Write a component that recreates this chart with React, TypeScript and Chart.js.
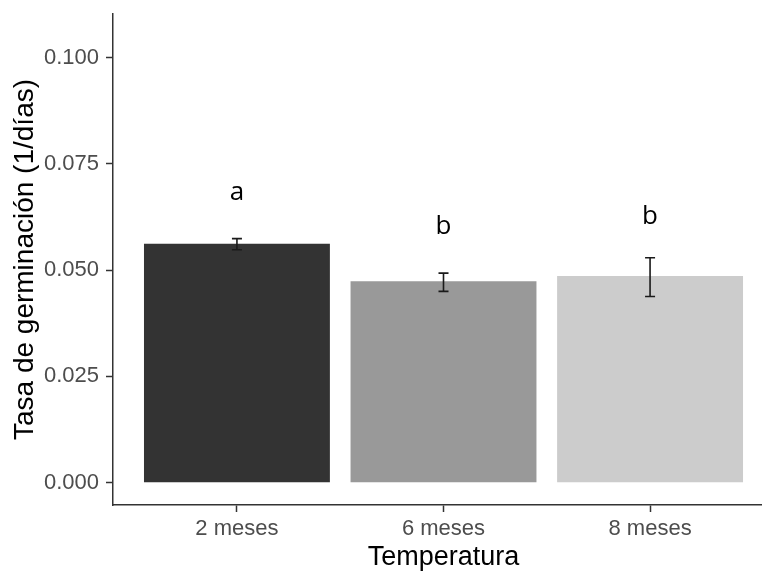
import React, { useEffect, useRef } from "react";
import { Chart, registerables } from "chart.js";
Chart.register(...registerables);

const categories = ["2 meses", "6 meses", "8 meses"];
const positions = [1, 2, 3];
const means = [0.0562, 0.0474, 0.0486];
const errLow = [0.0548, 0.045, 0.0438];
const errHigh = [0.0574, 0.0493, 0.0529];
const letters = ["a", "b", "b"];
const letterY = [0.0664, 0.0585, 0.0609];
const barColors = ["#333333", "#999999", "#cccccc"];
const yTicks = [0, 0.025, 0.05, 0.075, 0.1];
const xTitle = "Temperatura";
const yTitle = "Tasa de germinación (1/días)";

const overlay = {
  id: "overlay",
  afterDatasetsDraw(chart: any) {
    const { ctx, chartArea } = chart;
    const x = chart.scales.x;
    const y = chart.scales.y;
    ctx.save();
    ctx.strokeStyle = "#1a1a1a";
    ctx.lineWidth = 1.6;
    positions.forEach((p, i) => {
      const cx = x.getPixelForValue(p);
      const top = y.getPixelForValue(errHigh[i]);
      const bot = y.getPixelForValue(errLow[i]);
      ctx.beginPath();
      ctx.moveTo(cx, top);
      ctx.lineTo(cx, bot);
      ctx.moveTo(cx - 5, top);
      ctx.lineTo(cx + 5, top);
      ctx.moveTo(cx - 5, bot);
      ctx.lineTo(cx + 5, bot);
      ctx.stroke();
    });
    ctx.fillStyle = "#000";
    ctx.font = '26px "Open Sans", "Noto Sans", sans-serif';
    ctx.textAlign = "center";
    ctx.textBaseline = "alphabetic";
    letters.forEach((l, i) => {
      ctx.fillText(l, x.getPixelForValue(positions[i]), y.getPixelForValue(letterY[i]));
    });
    ctx.font = '27px "Liberation Sans", Arial, sans-serif';
    ctx.fillText(xTitle, (chartArea.left + chartArea.right) / 2, 565);
    ctx.font = '28px "Liberation Sans", Arial, sans-serif';
    ctx.translate(33, (chartArea.top + chartArea.bottom) / 2);
    ctx.rotate(-Math.PI / 2);
    ctx.fillText(yTitle, 0, 0);
    ctx.restore();
  },
};

export default function App() {
  const ref = useRef<HTMLCanvasElement | null>(null);
  useEffect(() => {
    if (!ref.current) return;
    const chart = new Chart(ref.current, {
      type: "bar",
      data: {
        datasets: [
          {
            data: positions.map((p, i) => ({ x: p, y: means[i] })),
            backgroundColor: barColors,
            borderWidth: 0,
            barPercentage: 0.9,
            categoryPercentage: 1,
          },
        ],
      },
      options: {
        animation: false,
        responsive: false,
        layout: { padding: { top: 14, left: 0, right: 0, bottom: 0 } },
        plugins: { legend: { display: false }, tooltip: { enabled: false } },
        scales: {
          x: {
            type: "linear",
            min: 0.4,
            max: 3.6,
            offset: false,
            afterBuildTicks: (s: any) => {
              s.ticks = positions.map((v) => ({ value: v }));
            },
            afterFit: (s: any) => {
              s.height = 67;
              s.paddingLeft = 0;
              s.paddingRight = 0;
            },
            grid: {
              offset: false,
              drawOnChartArea: false,
              drawTicks: true,
              tickLength: 7,
              tickColor: "#333",
              tickWidth: 1.5,
            },
            border: { display: true, color: "#333", width: 1.5 },
            ticks: {
              autoSkip: false,
              maxRotation: 0,
              padding: 4,
              color: "#4d4d4d",
              font: { family: '"Liberation Sans", Arial, sans-serif', size: 22 },
              callback: (_v: any, i: number) => categories[i],
            },
          },
          y: {
            type: "linear",
            min: -0.00525,
            max: 0.11025,
            afterBuildTicks: (s: any) => {
              s.ticks = yTicks.map((v) => ({ value: v }));
            },
            afterFit: (s: any) => {
              s.width = 113;
              s.paddingTop = 0;
              s.paddingBottom = 0;
            },
            grid: {
              drawOnChartArea: false,
              drawTicks: true,
              tickLength: 7,
              tickColor: "#333",
              tickWidth: 1.5,
            },
            border: { display: true, color: "#333", width: 1.5 },
            ticks: {
              padding: 7,
              color: "#4d4d4d",
              font: { family: '"Liberation Sans", Arial, sans-serif', size: 22 },
              callback: (v: any) => Number(v).toFixed(3),
            },
          },
        },
      },
      plugins: [overlay],
    } as any);
    return () => chart.destroy();
  }, []);
  return (
    <div
      style={{
        position: "fixed",
        left: 0,
        top: 0,
        width: 762,
        height: 572,
        overflow: "hidden",
        background: "#fff",
      }}
    >
      <canvas ref={ref} width={774} height={572} style={{ display: "block" }} />
    </div>
  );
}
